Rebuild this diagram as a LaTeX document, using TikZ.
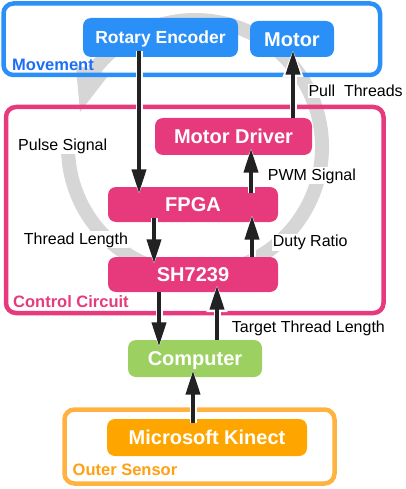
\documentclass[tikz,border=0pt]{standalone}
\usepackage{fontspec}
\setmainfont{Liberation Sans}
\usetikzlibrary{arrows.meta}
\definecolor{cblue}{RGB}{42,143,247}
\definecolor{cbluetext}{RGB}{28,110,246}
\definecolor{cpink}{RGB}{230,58,124}
\definecolor{cgreen}{RGB}{156,208,96}
\definecolor{corange}{RGB}{255,165,0}
\definecolor{corangeline}{RGB}{255,178,64}
\definecolor{corangetext}{RGB}{255,160,20}
\definecolor{carc}{RGB}{214,214,214}
\definecolor{carrow}{RGB}{34,34,34}
\begin{document}
\begin{tikzpicture}[x=1pt,y=-1pt,
  grpbox/.style={draw, line width=4.5pt, rounded corners=10pt, minimum width=#1, inner sep=0pt},
  grplabel/.style={anchor=base west, inner sep=0pt, font=\bfseries\fontsize{16.5}{18}\selectfont},
  unit/.style={fill=#1, rounded corners=8pt, inner sep=0pt, text=white,
    font=\bfseries\fontsize{20}{24}\selectfont, text height=14.3pt, text depth=0pt},
  sig/.style={anchor=base west, fill=white, inner sep=1pt, text=black,
    font=\fontsize{16}{18}\selectfont},
  arr/.style={draw=carrow, line width=4pt, -{Triangle[length=24pt,width=14pt]},
    shorten >=-6.5pt,
    preaction={draw=white, line width=7pt, -{Triangle[length=28pt,width=19pt]}, shorten >=-8pt}},
]
\useasboundingbox (0,0) rectangle (405,489);

% gray circular arrow in the background
\draw[carc, line width=14pt] (68.08,142.57) arc[start angle=182, end angle=-143, radius=127];
\fill[carc] (80,112) -- (109,74.7) -- (75.8,64.9) -- cycle;

% group boxes
\node[grpbox=376.5pt, draw=cblue, minimum height=71.5pt] (movement) at (191.75,39.25) {};
\node[grpbox=377.5pt, draw=cpink, minimum height=206pt] (control) at (194.75,210) {};
\node[grpbox=270pt, draw=corangeline, minimum height=74pt] (outer) at (199.5,446.5) {};

\node[grplabel, text=cbluetext] (lmove) at (12,71) {Movement};
\node[grplabel, text=cpink] (lctrl) at (13,307) {Control Circuit};
\node[grplabel, text=corangetext] (louter) at (72.5,475) {Outer Sensor};

% units
\node[unit=cblue, minimum width=155pt, minimum height=39pt,
  font=\bfseries\fontsize{17.5}{21}\selectfont, text height=12.5pt] (enc) at (160.5,37.5) {Rotary Encoder};
\node[unit=cblue, minimum width=84pt, minimum height=36pt] (motor) at (292,39) {Motor};
\node[unit=cpink, minimum width=157pt, minimum height=37pt] (mdrv) at (233.5,136.5) {Motor Driver};
\node[unit=cpink, minimum width=170pt, minimum height=35pt] (fpga) at (193,204.5) {FPGA};
\node[unit=cpink, minimum width=170pt, minimum height=35pt] (sh) at (193,274.5) {SH7239};
\node[unit=cgreen, minimum width=134pt, minimum height=37pt] (comp) at (195,358.5) {Computer};
\node[unit=corange, minimum width=200pt, minimum height=37pt] (kin) at (207,437.5) {Microsoft Kinect};

% signal labels
\node[sig] (pulse) at (17,150) {Pulse Signal};
\node[sig] (pull) at (307.3,96.7) {Pull\ \ Threads};
\node[sig] (pwm) at (266.7,180) {PWM Signal};
\node[sig] (tlen) at (22.7,244) {Thread Length};
\node[sig] (duty) at (271.7,246.7) {Duty Ratio};
\node[sig] (target) at (230.7,332.7) {Target Thread Length};

% connectors
\draw[arr, shorten <=-6pt] (139,0 |- enc.south) -- (139,0 |- fpga.north);
\draw[arr] (293,0 |- mdrv.north) -- (293,0 |- motor.south);
\draw[arr, shorten <=-6pt] (251,0 |- fpga.north) -- (251,0 |- mdrv.south);
\draw[arr, shorten <=-4pt] (154,0 |- fpga.south) -- (154,0 |- sh.north);
\draw[arr] (252,0 |- sh.north) -- (252,0 |- fpga.south);
\draw[arr] (159,0 |- sh.south) -- (159,0 |- comp.north);
\draw[arr] (217,0 |- comp.north) -- (217,0 |- sh.south);
\draw[arr, shorten <=-4pt] (193,0 |- kin.north) -- (193,0 |- comp.south);
\end{tikzpicture}
\end{document}
